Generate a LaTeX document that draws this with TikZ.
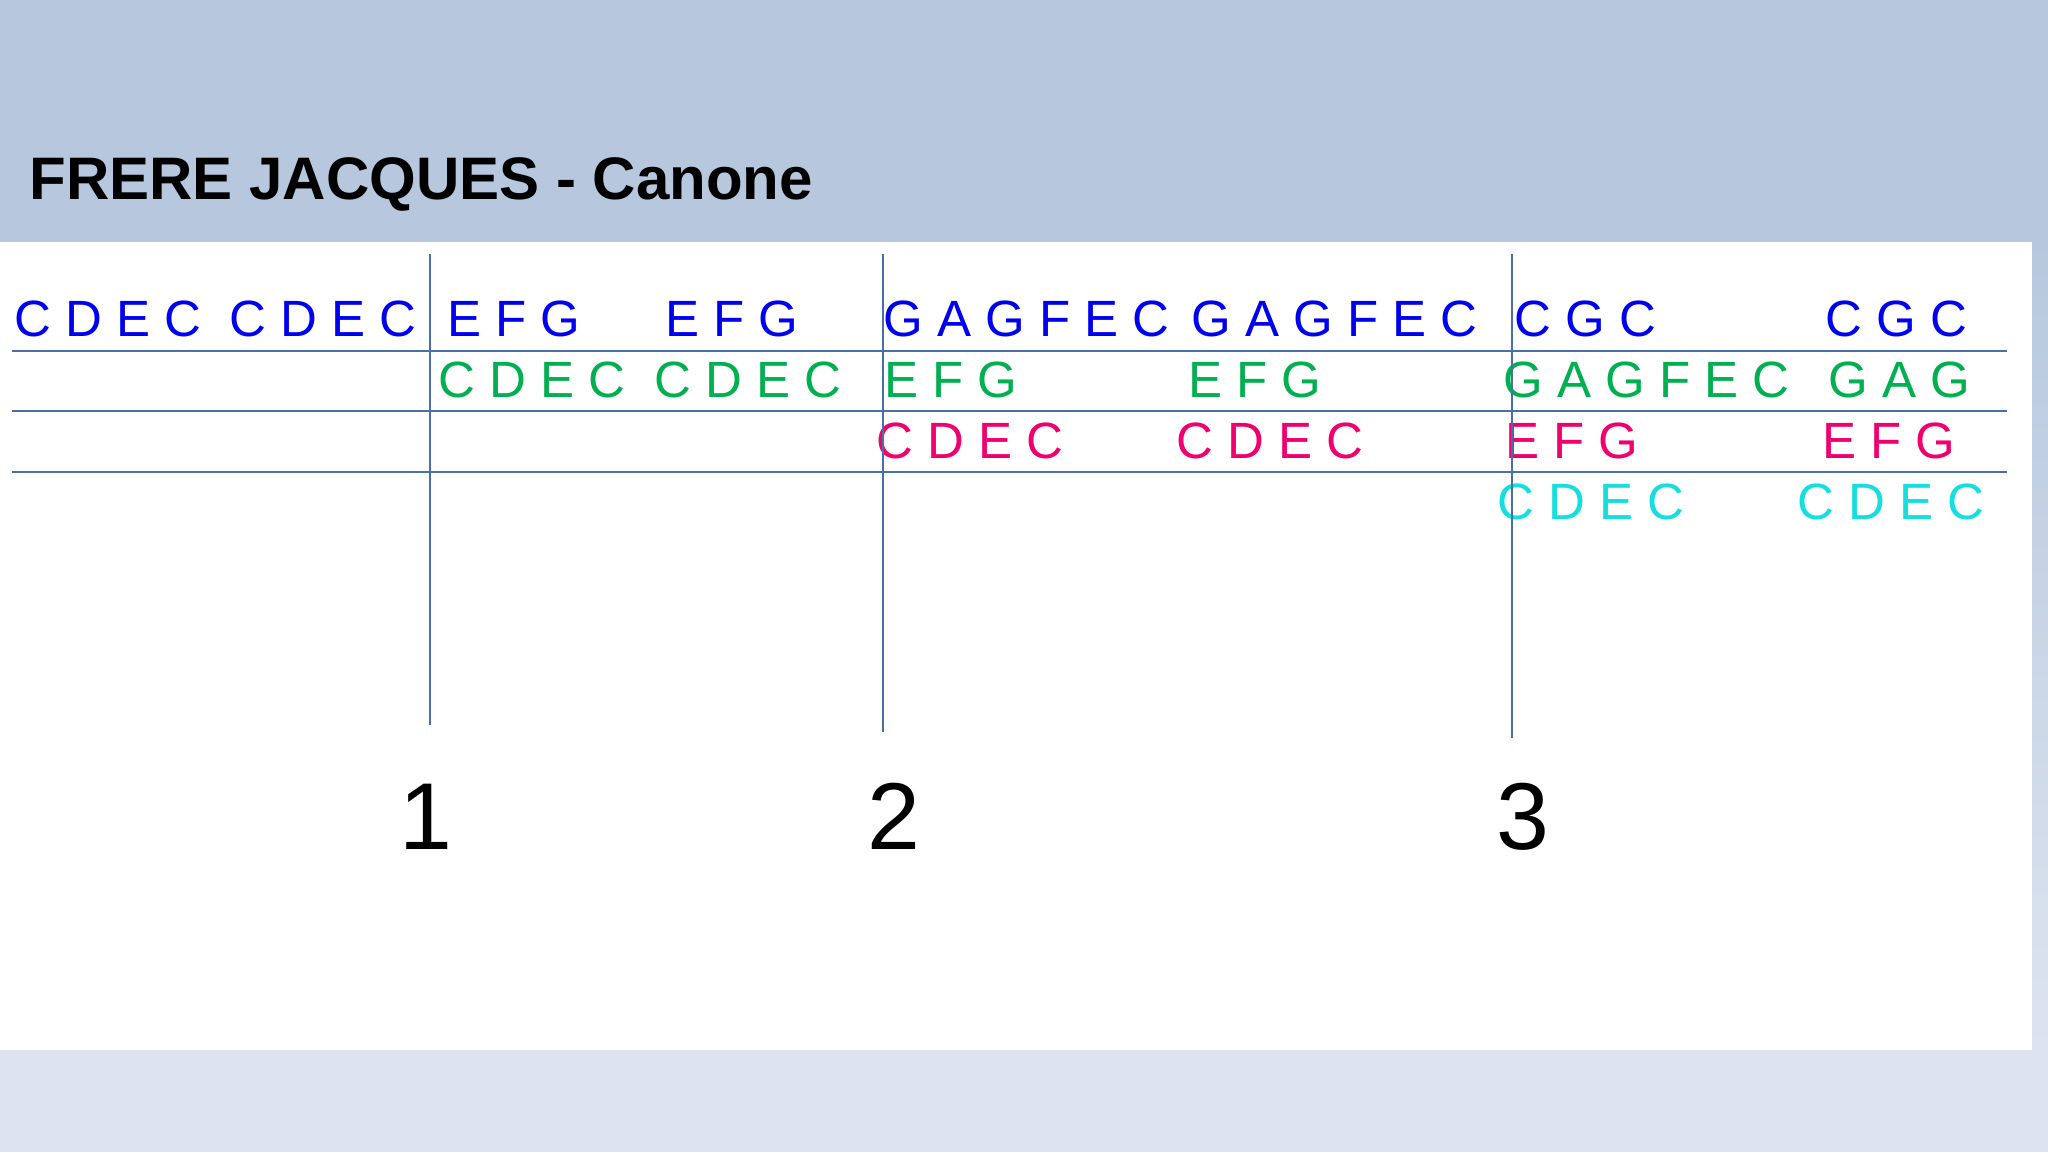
\documentclass[tikz,border=0pt]{standalone}
\usepackage{fontspec}
\setmainfont{Liberation Sans}
\usepackage{tikz}

\definecolor{bandtop}{HTML}{B7C8DE}
\definecolor{bandbot}{HTML}{DDE4EF}
\definecolor{gridline}{HTML}{4A6FA8}
\definecolor{voiceA}{HTML}{0000F0}
\definecolor{voiceB}{HTML}{00B050}
\definecolor{voiceC}{HTML}{F0006E}
\definecolor{voiceD}{HTML}{14DEDE}

\tikzset{
  note/.style={anchor=base west, inner sep=0pt, font=\fontsize{25.5}{30}\selectfont},
  bar/.style={gridline, line width=1pt},
  count/.style={anchor=base, inner sep=0pt, font=\fontsize{47.5}{56}\selectfont}
}

\begin{document}
\begin{tikzpicture}[x=0.5pt, y=-0.5pt]
        \useasboundingbox (0,0) rectangle (2048,1152);
        % background
        \fill[bandtop] (0,0) rectangle (2048,242);
        \fill[bandbot] (0,1050) rectangle (2048,1152);
        \shade[top color=bandtop, bottom color=bandbot] (2032,242) rectangle (2048,1050);
        \fill[white] (0,242) rectangle (2032,1050);

        \node[anchor=base west, inner sep=0pt, font=\fontsize{30}{36}\bfseries\selectfont] (title) at (29,199) {FRERE JACQUES - Canone};

        % voice 1
        \node[note, voiceA] (r1a) at (14,336) {C D E C};
        \node[note, voiceA] (r1b) at (229,336) {C D E C};
        \node[note, voiceA] (r1c) at (447,336) {E F G};
        \node[note, voiceA] (r1d) at (665,336) {E F G};
        \node[note, voiceA] (r1e) at (883,336) {G A G F E C};
        \node[note, voiceA] (r1f) at (1191,336) {G A G F E C};
        \node[note, voiceA] (r1g) at (1514,336) {C G C};
        \node[note, voiceA] (r1h) at (1825,336) {C G C};

        % voice 2
        \node[note, voiceB] (r2a) at (438,397) {C D E C};
        \node[note, voiceB] (r2b) at (654,397) {C D E C};
        \node[note, voiceB] (r2c) at (884,397) {E F G};
        \node[note, voiceB] (r2d) at (1188,397) {E F G};
        \node[note, voiceB] (r2e) at (1503,397) {G A G F E C};
        \node[note, voiceB] (r2f) at (1828,397) {G A G};

        % voice 3
        \node[note, voiceC] (r3a) at (876,458) {C D E C};
        \node[note, voiceC] (r3b) at (1176,458) {C D E C};
        \node[note, voiceC] (r3c) at (1505,458) {E F G};
        \node[note, voiceC] (r3d) at (1822,458) {E F G};

        % voice 4
        \node[note, voiceD] (r4a) at (1497,519) {C D E C};
        \node[note, voiceD] (r4b) at (1797,519) {C D E C};

        % grid
        \foreach \y in {351,411,472}
            \draw[bar] (12,\y) -- (2007,\y);
        \foreach \x/\b in {430/725, 883/732, 1512/738}
            \draw[bar] (\x,254) -- (\x,\b);

        \node[count] (m1) at (426,849) {1};
        \node[count] (m2) at (894,849) {2};
        \node[count] (m3) at (1523,849) {3};
    \end{tikzpicture}
\end{document}
